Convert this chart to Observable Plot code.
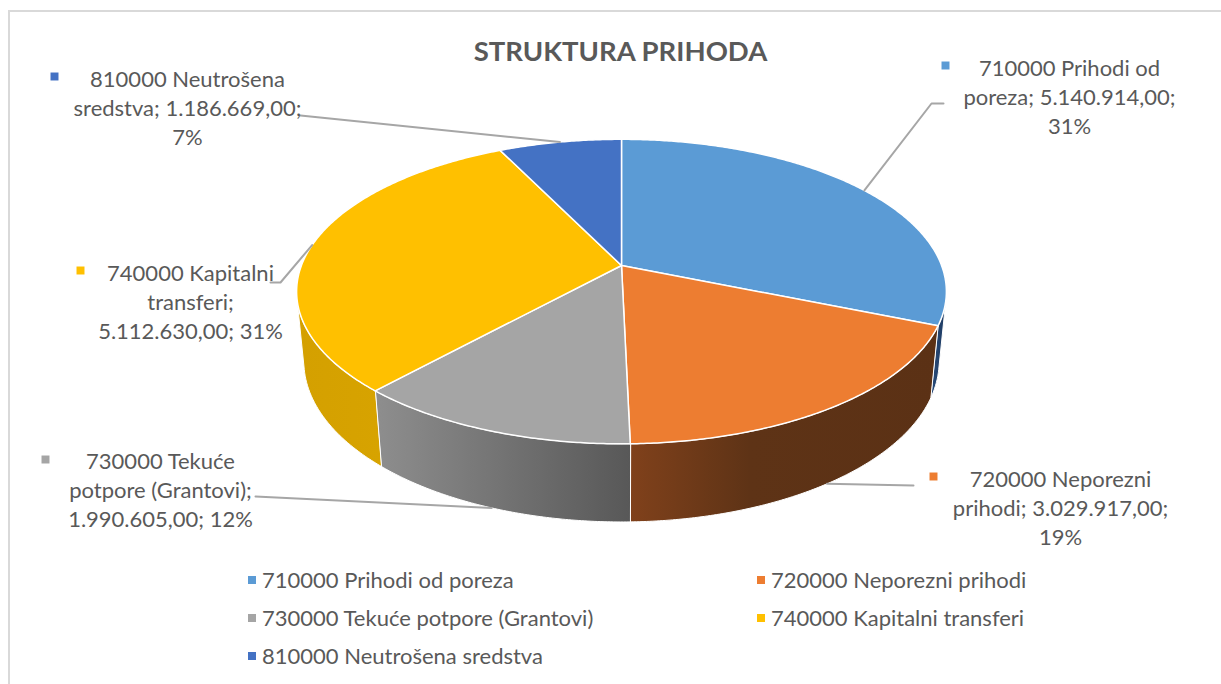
<!DOCTYPE html>
<html><head><meta charset="utf-8">
<script src="https://cdn.jsdelivr.net/npm/d3@7"></script>
<script src="https://cdn.jsdelivr.net/npm/@observablehq/plot@0.6"></script>
<style>
html,body{margin:0;padding:0;background:#fff;}
#wrap{position:relative;width:1221px;height:684px;overflow:hidden;font-family:Lato,sans-serif;color:#595959;}
#frame{position:absolute;left:8px;top:10px;width:1400px;height:900px;border:2px solid #d9d9d9;box-sizing:border-box;}
#title{position:absolute;left:0;width:1241px;top:33px;text-align:center;font-weight:700;font-size:27.5px;line-height:36px;}
#chart{position:absolute;left:0;top:0;}
.li{position:absolute;font-size:22px;line-height:30px;white-space:nowrap;}
.sw{display:inline-block;width:8px;height:8px;margin-right:6px;vertical-align:middle;position:relative;top:-2px;}
</style></head>
<body>
<div id="wrap">
  <div id="frame"></div>
  <div id="chart"></div>
  <div id="title">STRUKTURA PRIHODA</div>
  <div id="legend"></div>
</div>
<script>
// ---------- data ----------
const categories = ["710000 Prihodi od poreza", "720000 Neporezni prihodi", "730000 Tekuće potpore (Grantovi)", "740000 Kapitalni transferi", "810000 Neutrošena sredstva"];
const values = [5140914, 3029917, 1990605, 5112630, 1186669];
const percentLabels = ["31%", "19%", "12%", "31%", "7%"];
const colors = ["#5B9BD5", "#ED7D31", "#A5A5A5", "#FFC000", "#4472C4"];
const titleText = "STRUKTURA PRIHODA";

// ---------- layout (positions / styles only) ----------
const W = 1221, H = 560;
const wordsPerLine = [[3, 2, 1], [2, 2, 1], [2, 2, 2], [2, 1, 2], [2, 2, 1]];
const labelCenter = [[1069, 95], [1060, 506], [160, 488], [190, 300], [187, 106]];
const keyPos = [[945, 65], [933, 476], [45, 459], [80, 270], [54, 76]];
const leaderStart = [[[943, 103], [931, 103]], [[913, 485]], [[255, 496]], [[270, 282], [280, 282]], [[300, 115]]];
const legendPos = [[248, 580], [757, 580], [248, 618], [757, 618], [248, 656]];
const wallStops = [
  [[0, "#284B7A"], [1, "#1E3A60"]],
  [[0, "#80411B"], [0.39, "#5E3316"], [1, "#5B3115"]],
  [[0, "#8E8E8E"], [1, "#585858"]],
  [[0, "#D4A000"], [1, "#D7A300"]],
  [[0, "#2F5597"], [1, "#203864"]]
];

// 3D pie geometry (perspective view of a tilted disc)
const TILT = 27.5 * Math.PI / 180, cT = Math.cos(TILT), sT = Math.sin(TILT);
const DIST = 5.18, FOC = 1658, CX = 621, CY = 265, DEPTH = 0.248;
function project(theta, Y) {
  const X = Math.sin(theta), Z = -Math.cos(theta);
  const zc = DIST - Z * cT - Y * sT;
  return [CX + FOC * X / zc, CY + FOC * (Z * sT - Y * cT) / zc];
}

const fmt = d3.formatLocale({decimal: ",", thousands: ".", grouping: [3], currency: ["", ""]}).format(",.2f");
const total = d3.sum(values);
let acc = 0;
const slices = values.map((v, i) => {
  const a0 = acc / total * 2 * Math.PI; acc += v;
  const a1 = acc / total * 2 * Math.PI;
  return {i, a0, a1, mid: (a0 + a1) / 2};
});

// top faces
const topPts = [];
for (const s of slices) {
  topPts.push({key: s.i, x: CX, y: CY, fill: colors[s.i]});
  const n = Math.max(2, Math.ceil((s.a1 - s.a0) / (0.5 * Math.PI / 180)));
  for (let k = 0; k <= n; k++) {
    const [x, y] = project(s.a0 + (s.a1 - s.a0) * k / n, 0);
    topPts.push({key: s.i, x, y, fill: colors[s.i]});
  }
}
// visible outer walls
const vis0 = Math.acos(-1 / (DIST * cT)), vis1 = 2 * Math.PI - vis0;
const wallPts = [];
for (const s of slices) {
  const t0 = Math.max(s.a0, vis0), t1 = Math.min(s.a1, vis1);
  if (t1 <= t0) continue;
  const n = Math.max(2, Math.ceil((t1 - t0) / (0.5 * Math.PI / 180)));
  const topEdge = [], botEdge = [];
  for (let k = 0; k <= n; k++) {
    const t = t0 + (t1 - t0) * k / n;
    topEdge.push(project(t, 0));
    botEdge.push(project(t, -DEPTH));
  }
  for (const [x, y] of topEdge.concat(botEdge.reverse())) wallPts.push({key: s.i, x, y, fill: `url(#wall${s.i})`});
}
// leader lines
const leaderPts = [];
slices.forEach((s, i) => {
  const front = -Math.cos(s.mid) > 0;
  const end = project(s.mid, front ? -DEPTH : 0);
  for (const [x, y] of leaderStart[i].concat([end])) leaderPts.push({key: i, x, y});
});
// data labels
const labels = slices.map((s, i) => {
  const words = `${categories[i]}; ${fmt(values[i])}; ${percentLabels[i]}`.split(" ");
  const lines = []; let p = 0;
  for (const c of wordsPerLine[i]) { lines.push(words.slice(p, p + c).join(" ")); p += c; }
  return {x: labelCenter[i][0], y: labelCenter[i][1], text: lines.join("\n")};
});
const keys = slices.map((s, i) => ({x: keyPos[i][0], y: keyPos[i][1], fill: colors[i]}));

const svg = Plot.plot({
  width: W, height: H, margin: 0,
  x: {domain: [0, W], range: [0, W], axis: null},
  y: {domain: [0, H], range: [0, H], axis: null},
  color: {type: "identity"},
  style: {background: "transparent", overflow: "visible"},
  marks: [
    Plot.line(wallPts, {x: "x", y: "y", z: "key", fill: "fill", stroke: "#ffffff", strokeWidth: 1, curve: "linear-closed"}),
    Plot.line(topPts, {x: "x", y: "y", z: "key", fill: "fill", stroke: "#ffffff", strokeWidth: 1.5, strokeLinejoin: "round", curve: "linear-closed"}),
    Plot.line(leaderPts, {x: "x", y: "y", z: "key", stroke: "#A6A6A6", strokeWidth: 2, fill: "none"}),
    Plot.text(labels, {x: "x", y: "y", text: "text", fontSize: 22, lineHeight: 1.33, fill: "#595959", fontFamily: "Lato", textAnchor: "middle"}),
    Plot.dot(keys, {x: "x", y: "y", fill: "fill", symbol: "square", r: 4.5, stroke: "none"})
  ]
});
const defs = d3.select(svg).insert("defs", ":first-child");
wallStops.forEach((stops, i) => {
  const g = defs.append("linearGradient").attr("id", `wall${i}`).attr("x1", 0).attr("x2", 1).attr("y1", 0).attr("y2", 0);
  for (const [o, c] of stops) g.append("stop").attr("offset", o).attr("stop-color", c);
});
document.getElementById("chart").appendChild(svg);
document.getElementById("title").textContent = titleText;

const legend = document.getElementById("legend");
categories.forEach((c, i) => {
  const d = document.createElement("div");
  d.className = "li";
  d.style.left = legendPos[i][0] + "px";
  d.style.top = (legendPos[i][1] - 15) + "px";
  d.innerHTML = `<span class="sw" style="background:${colors[i]}"></span>`;
  d.appendChild(document.createTextNode(c));
  legend.appendChild(d);
});
</script>
</body></html>
